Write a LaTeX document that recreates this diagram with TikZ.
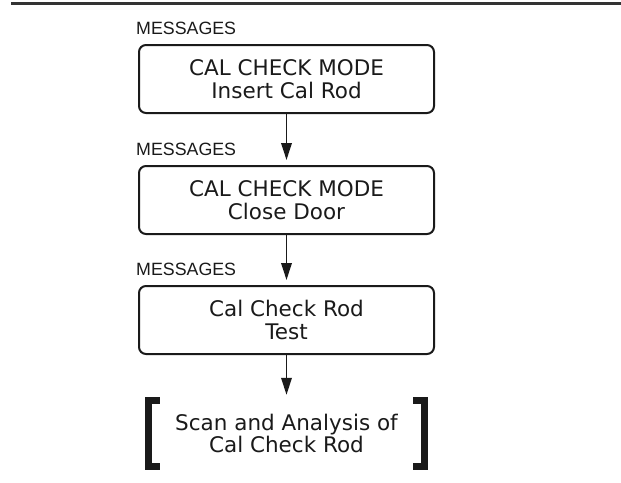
\documentclass[tikz,border=0pt]{standalone}
\usepackage{fontspec}
\setmainfont{DejaVu Sans}
\newfontfamily\msgfont{Liberation Sans}
\usepackage{tikz}
\usetikzlibrary{positioning,calc,arrows.meta}

\definecolor{inkgray}{HTML}{1A1A1A}
\definecolor{rulegray}{HTML}{333333}

\begin{document}
\begin{tikzpicture}[
    x=1pt, y=1pt,
    >={Triangle[length=17pt,width=10.5pt]},
    font=\fontsize{21.5}{22.5}\selectfont,
    every node/.style={text=inkgray},
    msgbox/.style={draw=inkgray, line width=2pt, rounded corners=7pt, minimum width=295pt, minimum height=68pt, align=center, inner sep=0pt},
    scanbox/.style={minimum width=276pt, minimum height=66pt, align=center, inner sep=0pt},
    msglabel/.style={font=\msgfont\fontsize{17.8}{18}\selectfont, anchor=base west, inner sep=0pt},
    flowarrow/.style={->, draw=inkgray, line width=1.9pt, shorten >=5pt},
    bracketline/.style={draw=inkgray, line width=7pt, miter limit=10}
]
\useasboundingbox (0,0) rectangle (621,-482);

% top rule
\draw[rulegray, line width=3pt] (11,-3) -- (621,-3);

% message boxes
\node[msgbox] (insert) at (286.5,-79) {CAL CHECK MODE\\Insert Cal Rod};
\node[msgbox, below=51pt of insert] (door) {CAL CHECK MODE\\Close Door};
\node[msgbox, below=50pt of door] (rodtest) {Cal Check Rod\\Test};

% MESSAGES labels
\node[msglabel] (msg1) at ($(insert.north west)+(-2,9.5)$) {MESSAGES};
\node[msglabel] (msg2) at ($(door.north west)+(-2,9.5)$) {MESSAGES};
\node[msglabel] (msg3) at ($(rodtest.north west)+(-2,9.5)$) {MESSAGES};

% final step with brackets
\node[scanbox] (scan) at (286.5,-433.5) {Scan and Analysis of\\Cal Check Rod};
\draw[bracketline] ([xshift=11.5pt]scan.north west) -- (scan.north west) -- (scan.south west) -- ([xshift=11.5pt]scan.south west);
\draw[bracketline] ([xshift=-11.5pt]scan.north east) -- (scan.north east) -- (scan.south east) -- ([xshift=-11.5pt]scan.south east);

% arrows
\draw[flowarrow] (insert) -- (door);
\draw[flowarrow] (door) -- (rodtest);
\draw[flowarrow, shorten >=5.5pt] (rodtest) -- (scan);

\end{tikzpicture}
\end{document}
